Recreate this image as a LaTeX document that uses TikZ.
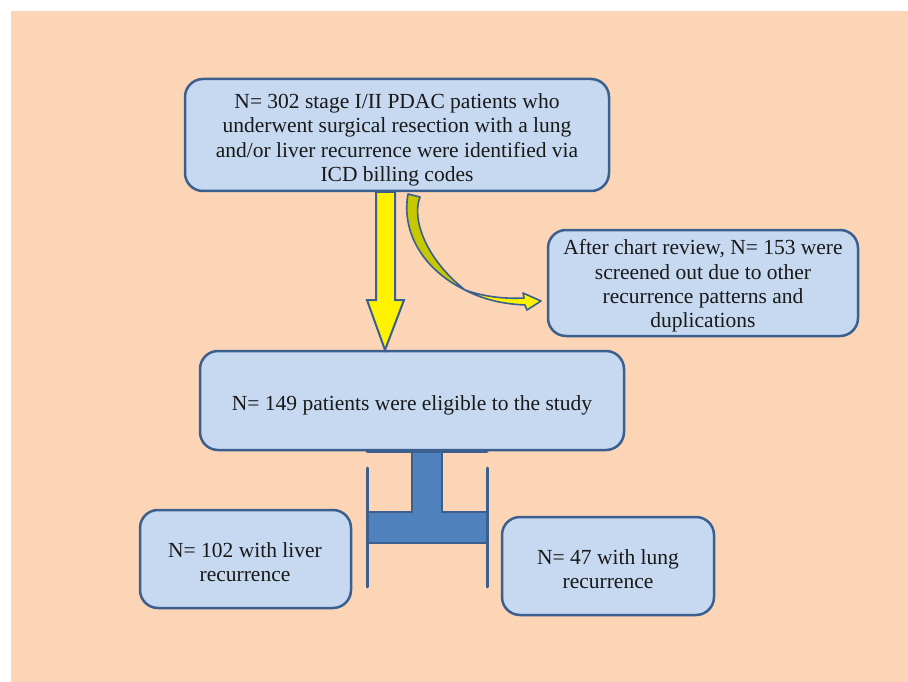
\documentclass[tikz,border=0pt]{standalone}
\usepackage{fontspec}
\setmainfont{Liberation Serif}
\usetikzlibrary{calc}
\definecolor{peach}{HTML}{FBD5B5}
\definecolor{boxfill}{HTML}{C6D9F1}
\definecolor{boxline}{HTML}{3B5F8E}
\definecolor{tblue}{HTML}{4F81BD}
\definecolor{darkyel}{HTML}{C8C800}
\tikzset{
  box/.style={draw=boxline, fill=boxfill, line width=2.5pt, rounded corners=18pt, inner sep=0pt},
  boxtext/.style={align=center, font=\fontsize{21.5}{24.3}\selectfont, text=black!90},
  yarrow/.style={draw=boxline, fill=yellow, line width=2pt, line join=miter},
  tshape/.style={draw=boxline, fill=tblue, line width=2pt},
  tline/.style={draw=boxline, line width=3pt, line cap=round}
}
\begin{document}
\begin{tikzpicture}[x=1pt,y=-1pt]
\useasboundingbox (0,0) rectangle (908,682);
\fill[white] (0,0) rectangle (908,682);
\fill[peach] (11,11) rectangle (908,682);

% boxes
\draw[box] (185,79) rectangle (609,191);
\node[boxtext] (top) at (397,140) {N= 302 stage I/II PDAC patients who\\underwent surgical resection with a lung\\and/or liver recurrence were identified via\\ICD billing codes};

\draw[box] (548,230) rectangle (858,336);
\node[boxtext] (excl) at (703,286) {After chart review, N= 153 were\\screened out due to other\\recurrence patterns and\\duplications};

\draw[box] (200,351) rectangle (624,450);
\node[boxtext] (mid) at (412,405) {N= 149 patients were eligible to the study};

\draw[box] (140,510) rectangle (351,608);
\node[boxtext] (liver) at (245,562) {N= 102 with liver\\recurrence};

\draw[box] (502,517) rectangle (714,615);
\node[boxtext] (lung) at (608,569) {N= 47 with lung\\recurrence};

% yellow down arrow
\draw[yarrow] (376,192) -- (395,192) -- (395,300) -- (404,300) -- (385,350) -- (367,300) -- (376,300) -- cycle;

% curved arrow: dark (back) part
\fill[darkyel] (408,194) -- (420,197)
  .. controls (411,220) and (427,260) .. (465,290)
  .. controls (424,270) and (401,233) .. (408,194) -- cycle;
% front yellow part with head
\fill[yellow] (465,290) .. controls (485,297) and (505,299) .. (524,298)
  -- (523,293) -- (541,301) -- (527,310) -- (525,305)
  .. controls (502,304) and (482,299) .. (465,290) -- cycle;
\draw[boxline, line width=1.6pt, line join=round] (408,194) -- (420,197)
  .. controls (411,220) and (427,260) .. (465,290)
  .. controls (485,297) and (505,299) .. (524,298)
  -- (523,293) -- (541,301) -- (527,310) -- (525,305)
  .. controls (502,304) and (482,299) .. (465,290)
  .. controls (424,270) and (401,233) .. (408,194) -- cycle;

% T connector
\draw[tshape] (412,451) -- (442,451) -- (442,512) -- (487,512) -- (487,543) -- (367,543) -- (367,512) -- (412,512) -- cycle;
\draw[tline] (367,451) -- (487,451);
\draw[tline] (367,468) -- (367,587);
\draw[tline] (487,468) -- (487,587);
\end{tikzpicture}
\end{document}
